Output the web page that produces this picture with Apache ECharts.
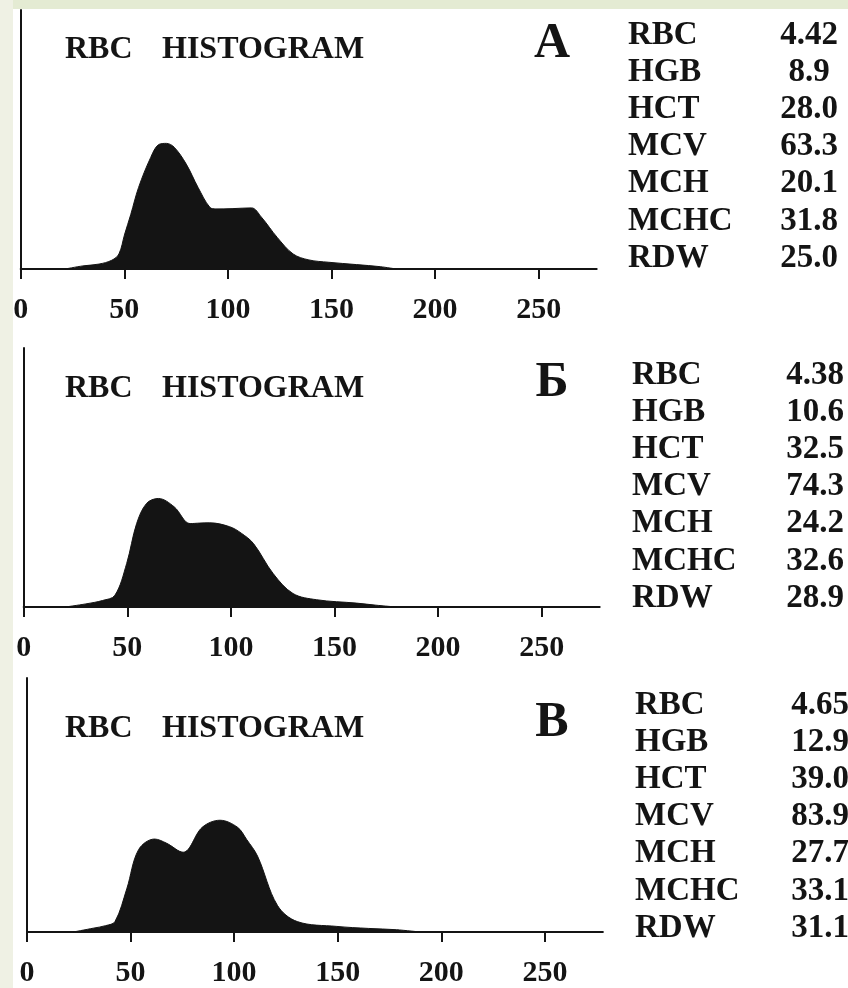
<!DOCTYPE html>
<html>
<head>
<meta charset="utf-8">
<title>RBC histograms</title>
<script src="https://cdn.jsdelivr.net/npm/echarts@6/dist/echarts.min.js"></script>
<style>
  html, body { margin: 0; padding: 0; background: #fff; }
  #chart { width: 848px; height: 988px; }
</style>
</head>
<body>
<div id="chart"></div>
<script>
// data: [cell volume (fL), relative count (axis top = 100)]
var curveA = [[21.5,0],[30,1.2],[37.8,1.9],[44,3.4],[47.4,5.8],[50.2,13.5],[53.1,21],[56.9,31.5],[62.7,43],
  [66.5,48],[70.3,48.5],[74.1,47],[79.9,40.5],[85.6,31.5],[91.3,23.8],[94.2,23.2],[102,23.3],[111.4,23.6],
  [116.2,20],[123.8,12.2],[131.5,5.8],[139.1,3.5],[148.7,2.6],[162.1,1.7],[173.5,0.9],[181.2,0]];
var curveB = [[20.1,0],[30,1.2],[38,2.5],[44,4.5],[49.7,16.8],[54.5,32.2],[59.3,40],[65,41.9],[72.6,38.7],
  [80.3,32.2],[85,32.4],[89.8,32.5],[99.4,31],[105,28.5],[110.9,24.5],[120.4,12.9],[130,5.2],[141.4,2.8],
  [160.6,1.5],[170,0.7],[179.7,0]];
var curveC = [[22.4,0],[32,1.5],[38,2.5],[42.5,4.1],[48.2,17],[53.9,32.4],[61.6,36.6],[67.3,35],[75.4,31.4],
  [84.6,41.2],[93.2,44],[101.7,41.2],[106,36.5],[111.3,29.9],[120.9,10.5],[130.5,4.1],[149.6,2.2],
  [165,1.4],[178.3,0.9],[189.7,0]];
var xTicks = [0, 50, 100, 150, 200, 250];
var paramNames = ['RBC', 'HGB', 'HCT', 'MCV', 'MCH', 'MCHC', 'RDW'];
var valuesA = ['4.42', '8.9', '28.0', '63.3', '20.1', '31.8', '25.0'];
var valuesB = ['4.38', '10.6', '32.5', '74.3', '24.2', '32.6', '28.9'];
var valuesC = ['4.65', '12.9', '39.0', '83.9', '27.7', '33.1', '31.1'];
var panelLetters = ['А', 'Б', 'В'];
var titleWords = ['RBC', 'HISTOGRAM'];

var serif = '"Liberation Serif", "Times New Roman", serif';
var ink = '#141414';

// layout of the three panels (pixels); base = text baseline of the title line
var panels = [
  {curve: curveA, values: valuesA, left: 20.7, top: 10, base: 61, rowY: 35, labX: 628, valX: 809},
  {curve: curveB, values: valuesB, left: 23.7, top: 348, base: 400, rowY: 375, labX: 632, valX: 815},
  {curve: curveC, values: valuesC, left: 26.9, top: 678, base: 740, rowY: 705, labX: 635, valX: 820}
];

var grids = [], xAxes = [], yAxes = [], series = [];
var graphics = [
  {type: 'rect', shape: {x: 0, y: 0, width: 848, height: 9}, style: {fill: '#e4ebd3'}, z: -10},
  {type: 'rect', shape: {x: 0, y: 0, width: 13, height: 988}, style: {fill: '#eff1e4'}, z: -10}
];

panels.forEach(function (p, i) {
  grids.push({left: p.left, top: p.top, width: 576, height: 259});
  xAxes.push({
    type: 'value', gridIndex: i, min: 0, max: 278,
    axisLine: {lineStyle: {color: ink, width: 2}},
    axisTick: {customValues: xTicks, length: 10, lineStyle: {color: ink, width: 2}},
    axisLabel: {customValues: xTicks, margin: 26, color: ink, fontFamily: serif, fontWeight: 'bold', fontSize: 30},
    splitLine: {show: false}
  });
  yAxes.push({
    type: 'value', gridIndex: i, min: 0, max: 100,
    axisLine: {show: true, lineStyle: {color: ink, width: 2}},
    axisTick: {show: false}, axisLabel: {show: false}, splitLine: {show: false}
  });
  series.push({
    type: 'line', xAxisIndex: i, yAxisIndex: i, data: p.curve,
    smooth: 0.35, symbol: 'none',
    lineStyle: {color: ink, width: 1},
    areaStyle: {color: ink, opacity: 1}
  });

  graphics.push({type: 'text', x: 65, y: p.base - 11,
    style: {text: titleWords[0], font: 'bold 32px ' + serif, fill: ink, textVerticalAlign: 'middle'}});
  graphics.push({type: 'text', x: 162, y: p.base - 11,
    style: {text: titleWords[1], font: 'bold 32px ' + serif, fill: ink, textVerticalAlign: 'middle'}});
  graphics.push({type: 'text', x: 552, y: p.base - 17,
    style: {text: panelLetters[i], font: 'bold 50px ' + serif, fill: ink, textAlign: 'center', textVerticalAlign: 'middle'}});

  paramNames.forEach(function (name, r) {
    var y = p.rowY + r * 37.2;
    graphics.push({type: 'text', x: p.labX, y: y,
      style: {text: name, font: 'bold 33px ' + serif, fill: ink, textVerticalAlign: 'middle'}});
    graphics.push({type: 'text', x: p.valX, y: y,
      style: {text: p.values[r], font: 'bold 33px ' + serif, fill: ink, textAlign: 'center', textVerticalAlign: 'middle'}});
  });
});

var chart = echarts.init(document.getElementById('chart'));
chart.setOption({
  backgroundColor: '#ffffff',
  animation: false,
  grid: grids,
  xAxis: xAxes,
  yAxis: yAxes,
  series: series,
  graphic: graphics
});
</script>
</body>
</html>
